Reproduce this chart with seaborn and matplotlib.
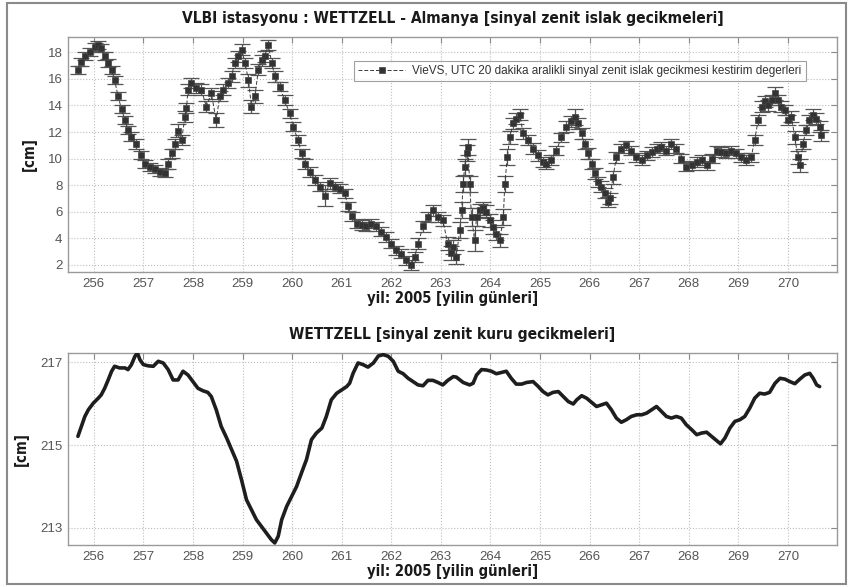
import matplotlib
matplotlib.use("Agg")
import matplotlib.pyplot as plt
from matplotlib import font_manager as fm
from matplotlib.patches import Rectangle
import seaborn as sns
import pandas as pd

# --- wet zenith delay estimates (VieVS, 20-minute intervals) ---
wet_day = [255.68, 255.75, 255.82, 255.92, 256.02, 256.09, 256.15, 256.22, 256.29, 256.36,
           256.42, 256.49, 256.56, 256.63, 256.69, 256.76, 256.86, 256.96, 257.03, 257.13,
           257.23, 257.33, 257.43, 257.50, 257.57, 257.63, 257.70, 257.77, 257.84, 257.87,
           257.90, 257.97, 258.07, 258.17, 258.27, 258.37, 258.47, 258.54, 258.61, 258.71,
           258.78, 258.84, 258.91, 258.98, 259.05, 259.12, 259.18, 259.25, 259.32, 259.39,
           259.45, 259.52, 259.59, 259.65, 259.75, 259.85, 259.95, 260.02, 260.12, 260.19,
           260.26, 260.36, 260.46, 260.56, 260.66, 260.76, 260.86, 260.96, 261.06, 261.13,
           261.20, 261.30, 261.40, 261.50, 261.60, 261.70, 261.80, 261.90, 262.00, 262.10,
           262.20, 262.30, 262.40, 262.47, 262.54, 262.64, 262.74, 262.84, 262.94, 263.04,
           263.14, 263.20, 263.25, 263.31, 263.38, 263.42, 263.45, 263.48, 263.52, 263.55,
           263.58, 263.62, 263.68, 263.72, 263.78, 263.85, 263.92, 263.99, 264.05, 264.12,
           264.19, 264.26, 264.29, 264.34, 264.39, 264.46, 264.52, 264.59, 264.66, 264.76,
           264.86, 264.96, 265.06, 265.13, 265.23, 265.33, 265.43, 265.53, 265.63, 265.70,
           265.77, 265.84, 265.90, 265.97, 266.04, 266.10, 266.17, 266.24, 266.31, 266.37,
           266.41, 266.47, 266.54, 266.64, 266.74, 266.84, 266.94, 267.05, 267.15, 267.25,
           267.35, 267.45, 267.55, 267.65, 267.75, 267.85, 267.95, 268.06, 268.16, 268.26,
           268.36, 268.46, 268.56, 268.66, 268.76, 268.86, 268.96, 269.06, 269.16, 269.26,
           269.33, 269.40, 269.47, 269.53, 269.60, 269.67, 269.74, 269.80, 269.87, 269.94,
           270.00, 270.07, 270.14, 270.20, 270.25, 270.30, 270.37, 270.43, 270.50, 270.57,
           270.64, 270.67]
wet_cm = [16.7, 17.3, 17.7, 18.05, 18.4, 18.55, 18.3, 17.7, 17.2, 16.7,
          15.9, 14.7, 13.7, 12.9, 12.15, 11.65, 11.1, 10.3, 9.6, 9.4,
          9.25, 9.0, 8.9, 9.6, 10.4, 11.1, 12.1, 11.4, 13.15, 13.8,
          15.2, 15.7, 15.3, 15.2, 13.9, 14.9, 12.9, 14.7, 15.2, 15.7,
          16.2, 17.2, 17.7, 18.2, 17.2, 15.9, 13.9, 14.7, 16.7, 17.4,
          17.7, 18.55, 17.2, 16.2, 15.4, 14.4, 13.4, 12.4, 11.4, 10.4,
          9.6, 9.0, 8.4, 7.9, 7.2, 8.15, 7.9, 7.75, 7.4, 6.4,
          5.65, 5.1, 5.0, 4.9, 5.1, 4.9, 4.5, 4.1, 3.6, 3.1,
          2.85, 2.35, 2.0, 2.6, 3.6, 4.9, 5.6, 6.1, 5.6, 5.35,
          3.6, 2.9, 3.35, 2.6, 4.6, 6.1, 8.1, 9.4, 10.4, 10.9,
          8.1, 5.6, 3.85, 5.6, 6.1, 6.25, 6.0, 5.35, 4.85, 4.35,
          3.85, 5.6, 8.1, 10.1, 11.6, 12.65, 13.0, 13.3, 11.9, 11.4,
          10.75, 10.25, 9.75, 9.6, 9.9, 10.6, 11.6, 12.4, 12.8, 13.15,
          12.65, 11.9, 11.1, 10.4, 9.6, 8.9, 8.25, 7.9, 7.4, 6.75,
          7.0, 8.6, 10.1, 10.75, 11.0, 10.6, 10.1, 9.9, 10.25, 10.5,
          10.75, 10.9, 10.6, 11.1, 10.75, 10.0, 9.4, 9.5, 9.75, 9.9,
          9.5, 10.0, 10.6, 10.5, 10.4, 10.6, 10.4, 10.1, 9.9, 10.1,
          11.4, 12.9, 13.9, 14.3, 14.0, 14.4, 14.9, 14.4, 13.9, 13.65,
          12.9, 13.15, 11.6, 10.1, 9.5, 11.1, 12.15, 12.9, 13.3, 13.0,
          12.4, 11.75]
wet_err = [0.3, 0.3, 0.3, 0.3, 0.3, 0.3, 0.3, 0.3, 0.3, 0.3,
           0.3, 0.3, 0.3, 0.3, 0.3, 0.35, 0.35, 0.3, 0.3, 0.3,
           0.3, 0.3, 0.3, 0.35, 0.35, 0.4, 0.5, 0.4, 0.4, 0.4,
           0.4, 0.4, 0.4, 0.4, 0.4, 0.4, 0.5, 0.4, 0.4, 0.4,
           0.4, 0.4, 0.4, 0.4, 0.4, 0.5, 0.5, 0.5, 0.4, 0.4,
           0.4, 0.4, 0.4, 0.4, 0.35, 0.35, 0.35, 0.35, 0.35, 0.35,
           0.35, 0.35, 0.35, 0.35, 0.8, 0.4, 0.35, 0.35, 0.35, 0.35,
           0.35, 0.35, 0.35, 0.35, 0.35, 0.35, 0.35, 0.35, 0.35, 0.35,
           0.35, 0.35, 0.35, 0.35, 0.4, 0.4, 0.4, 0.4, 0.4, 0.4,
           0.5, 0.5, 0.5, 0.5, 0.6, 0.6, 0.6, 0.6, 0.6, 0.6,
           0.6, 0.7, 0.8, 0.7, 0.5, 0.5, 0.5, 0.5, 0.5, 0.5,
           0.5, 0.6, 0.6, 0.6, 0.5, 0.4, 0.4, 0.4, 0.4, 0.4,
           0.4, 0.4, 0.35, 0.35, 0.35, 0.35, 0.35, 0.4, 0.4, 0.6,
           0.4, 0.4, 0.4, 0.4, 0.4, 0.4, 0.4, 0.4, 0.4, 0.4,
           0.4, 0.5, 0.4, 0.35, 0.35, 0.35, 0.35, 0.35, 0.35, 0.35,
           0.35, 0.35, 0.35, 0.35, 0.35, 0.35, 0.35, 0.35, 0.35, 0.35,
           0.35, 0.35, 0.35, 0.35, 0.35, 0.35, 0.35, 0.35, 0.35, 0.35,
           0.4, 0.4, 0.4, 0.4, 0.4, 0.4, 0.5, 0.4, 0.4, 0.4,
           0.4, 0.4, 0.5, 0.5, 0.5, 0.4, 0.4, 0.4, 0.4, 0.4,
           0.4, 0.4]

# --- dry (hydrostatic) zenith delay ---
dry_day = [255.68, 255.75, 255.82, 255.89, 255.99, 256.09, 256.15, 256.22, 256.29, 256.36,
           256.42, 256.52, 256.63, 256.69, 256.76, 256.83, 256.88, 256.93, 257.00, 257.10,
           257.20, 257.30, 257.40, 257.50, 257.60, 257.70, 257.80, 257.90, 258.00, 258.10,
           258.20, 258.30, 258.37, 258.47, 258.57, 258.68, 258.78, 258.88, 258.98, 259.08,
           259.18, 259.28, 259.38, 259.48, 259.58, 259.65, 259.72, 259.79, 259.89, 259.99,
           260.09, 260.19, 260.29, 260.39, 260.49, 260.60, 260.69, 260.79, 260.90, 261.00,
           261.10, 261.16, 261.23, 261.33, 261.43, 261.53, 261.64, 261.74, 261.84, 261.94,
           262.04, 262.14, 262.24, 262.34, 262.44, 262.54, 262.64, 262.74, 262.84, 262.94,
           263.04, 263.14, 263.25, 263.31, 263.45, 263.58, 263.65, 263.72, 263.82, 263.92,
           264.02, 264.12, 264.22, 264.32, 264.42, 264.52, 264.63, 264.73, 264.86, 264.95,
           265.06, 265.16, 265.26, 265.37, 265.47, 265.57, 265.67, 265.74, 265.84, 265.94,
           266.04, 266.14, 266.24, 266.34, 266.44, 266.54, 266.64, 266.74, 266.84, 266.95,
           267.05, 267.15, 267.25, 267.35, 267.45, 267.55, 267.65, 267.75, 267.85, 267.95,
           268.06, 268.16, 268.26, 268.36, 268.46, 268.56, 268.64, 268.73, 268.83, 268.93,
           269.03, 269.13, 269.23, 269.33, 269.43, 269.53, 269.63, 269.74, 269.84, 269.94,
           270.04, 270.14, 270.24, 270.34, 270.44, 270.51, 270.58, 270.64]
dry_cm = [215.21, 215.45, 215.69, 215.85, 216.01, 216.13, 216.21, 216.37, 216.57, 216.78,
          216.90, 216.86, 216.86, 216.82, 216.94, 217.14, 217.22, 217.06, 216.94, 216.91,
          216.90, 217.02, 216.98, 216.82, 216.57, 216.57, 216.78, 216.69, 216.53, 216.37,
          216.31, 216.27, 216.17, 215.85, 215.45, 215.17, 214.89, 214.61, 214.16, 213.68,
          213.44, 213.20, 213.04, 212.88, 212.72, 212.64, 212.80, 213.20, 213.52, 213.76,
          214.00, 214.33, 214.65, 215.13, 215.29, 215.41, 215.69, 216.09, 216.25, 216.33,
          216.41, 216.49, 216.73, 216.98, 216.94, 216.88, 216.98, 217.15, 217.18, 217.14,
          217.02, 216.78, 216.72, 216.61, 216.53, 216.45, 216.43, 216.56, 216.56, 216.51,
          216.45, 216.56, 216.65, 216.64, 216.51, 216.45, 216.49, 216.69, 216.82, 216.81,
          216.78, 216.72, 216.75, 216.78, 216.61, 216.47, 216.47, 216.51, 216.53, 216.43,
          216.29, 216.21, 216.27, 216.29, 216.17, 216.05, 215.99, 216.09, 216.19, 216.13,
          216.03, 215.93, 215.97, 216.01, 215.85, 215.65, 215.55, 215.61, 215.69, 215.73,
          215.73, 215.77, 215.85, 215.93, 215.81, 215.69, 215.65, 215.69, 215.65, 215.49,
          215.37, 215.25, 215.29, 215.31, 215.21, 215.11, 215.03, 215.17, 215.41, 215.57,
          215.61, 215.69, 215.89, 216.13, 216.25, 216.23, 216.27, 216.49, 216.61, 216.59,
          216.53, 216.48, 216.59, 216.69, 216.73, 216.61, 216.45, 216.41]

day_ticks = list(range(256, 271))
wet_ticks = [2, 4, 6, 8, 10, 12, 14, 16, 18]
dry_ticks = [213, 215, 217]

title_top = "VLBI istasyonu : WETTZELL - Almanya [sinyal zenit islak gecikmeleri]"
title_bottom = "WETTZELL [sinyal zenit kuru gecikmeleri]"
x_label = "yil: 2005 [yilin günleri]"
y_label = "[cm]"
legend_label = "VieVS, UTC 20 dakika aralikli sinyal zenit islak gecikmesi kestirim degerleri"

wet = pd.DataFrame({"day": wet_day, "cm": wet_cm, "err": wet_err})
dry = pd.DataFrame({"day": dry_day, "cm": dry_cm})

sns.set_theme(style="white")
plt.rcParams["font.family"] = ["Liberation Sans", "DejaVu Sans"]


def narrow_bold(size):
    """Pick a condensed bold face for headings if one is installed."""
    pool = fm.fontManager.ttflist
    def is_bold(f):
        return (isinstance(f.weight, int) and f.weight >= 600) or \
            str(f.weight).lower() in ("bold", "heavy", "black", "demibold", "semibold")
    cands = [f for f in pool if is_bold(f) and f.style == "normal" and
             ("condensed" in str(f.stretch).lower() or "narrow" in f.name.lower()
              or "condensed" in f.name.lower())]
    if cands:
        cands.sort(key=lambda f: (0 if "DejaVu" in f.name else 1, f.name))
        return fm.FontProperties(fname=cands[0].fname, size=size)
    return fm.FontProperties(family="Roboto", weight="bold", size=size * 0.82)


W, H = 852, 587
fig = plt.figure(figsize=(W / 100, H / 100), dpi=100)
fig.patch.set_facecolor("white")

ax1 = fig.add_axes([68 / W, 1 - 272 / H, (837 - 68) / W, (272 - 37) / H])
ax2 = fig.add_axes([68 / W, 1 - 545 / H, (837 - 68) / W, (545 - 353) / H])

# top: wet delay with formal errors
ax1.errorbar(wet["day"], wet["cm"], yerr=wet["err"], fmt="none",
             ecolor="#555555", elinewidth=0.9, capsize=5.5, capthick=0.9, zorder=2)
sns.lineplot(data=wet, x="day", y="cm", ax=ax1, sort=False, estimator=None,
             color="#3a3a3a", linewidth=0.7, linestyle=(0, (4, 2)),
             marker="s", markersize=4.5, markerfacecolor="#333333",
             markeredgecolor="#444444", markeredgewidth=0.5,
             label=legend_label, zorder=3)

# bottom: dry delay
sns.lineplot(data=dry, x="day", y="cm", ax=ax2, sort=False, estimator=None,
             color="#1e1e1e", linewidth=2.6, zorder=3)

head_title = narrow_bold(11.2)
head_label = narrow_bold(10.6)

for ax in (ax1, ax2):
    ax.set_xlim(255.48, 270.99)
    ax.set_xticks(day_ticks)
    ax.grid(True, linestyle=":", color="#bdbdbd", linewidth=0.8)
    ax.tick_params(direction="in", top=True, right=True, length=4, width=0.8,
                   color="#8a8a8a", labelcolor="#555555", labelsize=9.5, pad=4)
    for s in ax.spines.values():
        s.set_color("#9a9a9a")
        s.set_linewidth(1.0)
    ax.set_xlabel(x_label, fontproperties=head_label, color="#1a1a1a", labelpad=1)
    ax.set_ylabel(y_label, fontproperties=head_label, color="#1a1a1a", labelpad=8)

ax1.set_ylim(1.47, 19.15)
ax1.set_yticks(wet_ticks)
ax2.set_ylim(212.59, 217.22)
ax2.set_yticks(dry_ticks)

ax1.set_title(title_top, fontproperties=head_title, color="#1a1a1a", pad=10)
ax2.set_title(title_bottom, fontproperties=head_title, color="#1a1a1a", pad=10)

leg = ax1.legend(loc="upper right", bbox_to_anchor=(0.967, 0.925), fontsize=8.5,
                 frameon=True, fancybox=False, edgecolor="#888888",
                 handlelength=4, borderpad=0.35, handletextpad=0.6)
leg.get_frame().set_linewidth(0.8)
for t in leg.get_texts():
    t.set_color("#333333")

fig.add_artist(Rectangle((7 / W, 3 / H), (846 - 7) / W, (584 - 3) / H,
                         transform=fig.transFigure, fill=False,
                         edgecolor="#8a8a8a", linewidth=1.5))

fig.savefig("out.png", dpi=100, facecolor="white")
